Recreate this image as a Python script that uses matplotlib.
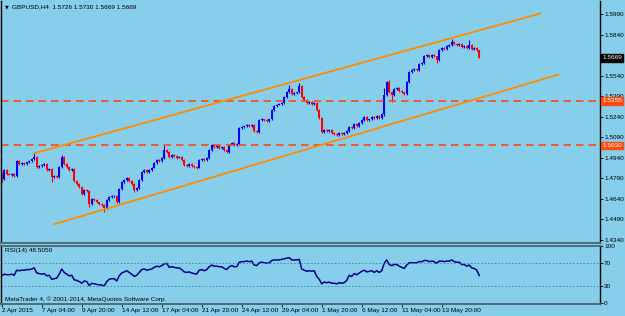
import matplotlib
matplotlib.use("Agg")
import matplotlib.pyplot as plt
import matplotlib.transforms as mtransforms
import numpy as np

# GBPUSD H4 bars, 2 Apr 2015 .. 14 May 2015
first_open = 1.4829
closes = [
    1.4785, 1.4851, 1.4822, 1.4815, 1.4822, 1.4807, 1.4917, 1.4895, 1.4902, 1.4895,
    1.4909, 1.4917, 1.4931, 1.4946, 1.4873, 1.4880, 1.4888, 1.4895, 1.4851, 1.4858,
    1.4800, 1.4807, 1.4800, 1.4873, 1.4946, 1.4895, 1.4873, 1.4851, 1.4858, 1.4771,
    1.4749, 1.4727, 1.4676, 1.4705, 1.4698, 1.4603, 1.4639, 1.4632, 1.4617, 1.4603,
    1.4596, 1.4574, 1.4632, 1.4654, 1.4661, 1.4661, 1.4617, 1.4712, 1.4763, 1.4778,
    1.4793, 1.4771, 1.4749, 1.4705, 1.4720, 1.4778, 1.4836, 1.4851, 1.4836, 1.4851,
    1.4866, 1.4902, 1.4924, 1.4917, 1.4939, 1.4997, 1.4982, 1.4946, 1.4961, 1.4953,
    1.4939, 1.4946, 1.4924, 1.4888, 1.4880, 1.4895, 1.4880, 1.4873, 1.4866, 1.4924,
    1.4931, 1.4924, 1.4939, 1.4997, 1.5034, 1.5019, 1.5026, 1.5012, 1.5019, 1.4997,
    1.4982, 1.5034, 1.5048, 1.5034, 1.5041, 1.5158, 1.5165, 1.5172, 1.5180, 1.5172,
    1.5180, 1.5136, 1.5128, 1.5216, 1.5223, 1.5216, 1.5209, 1.5223, 1.5289, 1.5318,
    1.5326, 1.5333, 1.5340, 1.5384, 1.5420, 1.5442, 1.5406, 1.5413, 1.5420, 1.5464,
    1.5384, 1.5362, 1.5340, 1.5347, 1.5333, 1.5340, 1.5289, 1.5231, 1.5128, 1.5143,
    1.5136, 1.5143, 1.5121, 1.5114, 1.5107, 1.5121, 1.5114, 1.5121, 1.5136, 1.5165,
    1.5158, 1.5187, 1.5172, 1.5194, 1.5216, 1.5238, 1.5216, 1.5223, 1.5238, 1.5231,
    1.5245, 1.5231, 1.5260, 1.5399, 1.5493, 1.5420, 1.5399, 1.5442, 1.5450, 1.5428,
    1.5420, 1.5406, 1.5493, 1.5566, 1.5581, 1.5588, 1.5581, 1.5625, 1.5632, 1.5683,
    1.5691, 1.5676, 1.5691, 1.5683, 1.5654, 1.5727, 1.5742, 1.5734, 1.5756, 1.5764,
    1.5785, 1.5771, 1.5764, 1.5771, 1.5749, 1.5756, 1.5742, 1.5764, 1.5734, 1.5742,
    1.5726, 1.5669,
]
# wick lengths beyond the body, in pips
wick_hi = [
    6, 6, 5, 4, 5, 4, 8, 5, 4, 5, 4, 5, 6, 27, 4, 5, 6, 5, 4, 5,
    4, 5, 4, 6, 15, 5, 4, 5, 4, 6, 5, 4, 5, 6, 4, 5, 6, 4, 5, 4,
    4, 5, 6, 5, 4, 5, 6, 7, 6, 5, 6, 5, 4, 5, 4, 6, 5, 6, 4, 5,
    5, 6, 5, 4, 6, 36, 6, 5, 6, 4, 5, 4, 5, 6, 4, 5, 4, 5, 4, 6,
    5, 4, 6, 7, 8, 5, 4, 5, 4, 5, 4, 6, 7, 5, 4, 10, 6, 5, 6, 5,
    6, 5, 4, 6, 5, 4, 5, 4, 8, 6, 5, 6, 5, 8, 6, 30, 5, 6, 4, 22,
    5, 6, 4, 5, 6, 4, 5, 4, 5, 6, 4, 5, 4, 5, 4, 5, 4, 5, 6, 7,
    5, 6, 4, 5, 6, 7, 5, 4, 6, 5, 4, 5, 6, 51, 8, 15, 6, 7, 5, 4,
    5, 4, 8, 7, 6, 5, 4, 6, 5, 7, 6, 5, 6, 5, 4, 8, 6, 5, 7, 6,
    22, 6, 5, 6, 4, 5, 6, 36, 5, 6, 5, 4,
]
wick_lo = [
    22, 5, 6, 4, 5, 6, 5, 4, 5, 4, 5, 4, 5, 4, 6, 5, 4, 5, 6, 5,
    37, 5, 6, 5, 4, 5, 6, 4, 5, 6, 5, 6, 8, 5, 6, 22, 5, 6, 5, 6,
    7, 30, 6, 5, 4, 5, 8, 5, 4, 5, 6, 5, 4, 12, 6, 5, 4, 5, 6, 4,
    5, 4, 5, 6, 4, 5, 6, 5, 4, 5, 6, 4, 5, 6, 5, 4, 6, 8, 5, 4,
    5, 6, 4, 5, 4, 6, 5, 4, 5, 6, 7, 5, 4, 5, 6, 5, 4, 5, 4, 5,
    4, 6, 5, 4, 5, 4, 5, 4, 5, 4, 5, 4, 6, 5, 4, 5, 6, 4, 5, 4,
    6, 5, 6, 4, 5, 4, 6, 5, 10, 6, 5, 4, 5, 6, 7, 5, 4, 5, 4, 5,
    6, 5, 4, 5, 4, 5, 6, 5, 4, 5, 6, 5, 4, 15, 6, 5, 52, 5, 4, 6,
    5, 6, 4, 5, 6, 4, 5, 6, 5, 4, 5, 6, 5, 4, 22, 5, 4, 5, 4, 5,
    4, 5, 4, 5, 6, 4, 5, 4, 5, 4, 6, 0,
]
rsi = [
    48, 51, 50, 50, 51, 49, 58, 57, 58, 58, 59, 59, 60, 62, 53, 52, 51, 52, 48, 49,
    42, 43, 44, 51, 60, 54, 51, 48, 49, 41, 40, 38, 35, 39, 38, 31, 35, 34, 33, 32,
    32, 30, 38, 42, 43, 43, 39, 48, 53, 55, 57, 54, 51, 47, 49, 54, 59, 60, 58, 59,
    60, 63, 65, 64, 66, 69, 70, 63, 64, 63, 62, 62, 59, 55, 54, 55, 53, 52, 51, 58,
    59, 57, 59, 64, 67, 65, 65, 64, 64, 61, 59, 64, 66, 64, 64, 72, 73, 73, 74, 73,
    74, 67, 66, 71, 72, 71, 70, 71, 75, 76, 76, 76, 77, 78, 79, 80, 76, 76, 76, 77,
    60, 58, 56, 57, 56, 57, 47, 42, 34, 37, 36, 37, 35, 35, 34, 36, 35, 36, 40, 49,
    47, 52, 50, 53, 56, 58, 55, 56, 57, 54, 57, 54, 57, 70, 76, 68, 66, 68, 68, 65,
    63, 61, 67, 71, 71, 71, 71, 73, 73, 75, 75, 73, 74, 73, 70, 74, 74, 73, 74, 74,
    76, 73, 72, 72, 68, 68, 65, 67, 62, 61, 58, 48.505,
]
tick_labels = [
    "2 Apr 2015", "7 Apr 04:00", "9 Apr 20:00", "14 Apr 12:00", "17 Apr 04:00",
    "21 Apr 20:00", "24 Apr 12:00", "29 Apr 04:00", "1 May 20:00", "6 May 12:00",
    "11 May 04:00", "13 May 20:00",
]
tick_bars = [0, 16, 32, 48, 64, 80, 96, 112, 128, 144, 160, 176]
price_ticks = [1.5990, 1.5840, 1.5540, 1.5390, 1.5240, 1.5090, 1.4940, 1.4790, 1.4640, 1.4490, 1.4340]
hlines = [1.5355, 1.5030]
# channel trend lines: (bar, price) end points
upper_line = ([13.0, 215.3], [1.4973, 1.5993])
lower_line = ([21.0, 222.5], [1.4455, 1.5547])
rsi_levels = [70, 30]

BG = "#87CEEB"
FS = 4.6
plt.rcParams["font.family"] = ["Liberation Sans", "DejaVu Sans"]

closes = np.array(closes)
opens = np.concatenate([[first_open], closes[:-1]])
highs = np.maximum(opens, closes) + np.array(wick_hi) * 1e-4
lows = np.minimum(opens, closes) - np.array(wick_lo) * 1e-4
bars = np.arange(len(closes))

fig = plt.figure(figsize=(6.25, 3.16), dpi=100, facecolor=BG)
ax = fig.add_axes([1 / 625, 73 / 316, 599 / 625, 242 / 316], facecolor=BG)
ax2 = fig.add_axes([1 / 625, 12 / 316, 599 / 625, 58 / 316], facecolor=BG, sharex=ax)

up = closes >= opens
colors = np.where(up, "#0000FF", "#FF0000")
body_h = np.maximum(np.abs(closes - opens), 0.0002)
ax.vlines(bars, lows, highs, colors=colors, lw=0.8)
ax.bar(bars, body_h, bottom=np.minimum(opens, closes), width=0.72, color=colors, linewidth=0)

for level in hlines:
    ax.axhline(level, color="#FF4A10", lw=1.2, ls=(0, (4.5, 3)))
ax.plot(*upper_line, color="#FF8C00", lw=1.3)
ax.plot(*lower_line, color="#FF8C00", lw=1.3)

ax.set_xlim(-0.28, 239.3)
ax.set_ylim(1.4318, 1.6085)
ax.yaxis.tick_right()
ax.set_yticks(price_ticks)
ax.set_yticklabels([f"{p:.4f}" for p in price_ticks])
ax.tick_params(axis="y", direction="out", length=2, width=0.6, pad=1, labelsize=FS, colors="black")
ax.tick_params(axis="x", bottom=False, labelbottom=False)

trans = mtransforms.blended_transform_factory(ax.transAxes, ax.transData)
ax.text(1.004, closes[-1], f"{closes[-1]:.4f}", transform=trans, fontsize=FS, color="white",
        va="center", ha="left", bbox=dict(fc="black", ec="black", pad=0.8))
for level in hlines:
    ax.text(1.004, level, f"{level:.4f}", transform=trans, fontsize=FS, color="white",
            va="center", ha="left", bbox=dict(fc="#FF4A10", ec="#FF4A10", pad=0.8))

ax.text(0.006, 0.985, "\u25bc", transform=ax.transAxes, fontsize=3.5, va="top", ha="left",
        family="DejaVu Sans")
ax.text(0.019, 0.988, "GBPUSD,H4  1.5726 1.5730 1.5669 1.5669", transform=ax.transAxes,
        fontsize=FS, va="top", ha="left")

ax2.plot(bars, rsi, color="#00008B", lw=1.1)
for level in rsi_levels:
    ax2.axhline(level, color="#3C8CA8", lw=0.7, ls=(0, (1.5, 2)))
ax2.set_ylim(-1.5, 100.5)
ax2.yaxis.tick_right()
ax2.set_yticks([100, 70, 30, 0])
ax2.set_yticklabels(["100", "70", "30", "0"])
ax2.tick_params(axis="y", direction="out", length=2, width=0.6, pad=1, labelsize=FS)
ax2.set_xticks(tick_bars)
ax2.set_xticklabels(tick_labels, ha="left")
ax2.tick_params(axis="x", direction="out", length=2, width=0.6, pad=1, labelsize=FS)
ax2.text(0.006, 0.96, f"RSI(14) {rsi[-1]:.4f}", transform=ax2.transAxes, fontsize=FS,
         va="top", ha="left")
ax2.text(0.006, 0.04, "MetaTrader 4, \u00a9 2001-2014, MetaQuotes Software Corp.",
         transform=ax2.transAxes, fontsize=FS, va="bottom", ha="left")

for a in (ax, ax2):
    a.spines["left"].set_color("black")
    a.spines["right"].set_color("black")
    a.spines["left"].set_linewidth(1.0)
    a.spines["right"].set_linewidth(1.0)
ax.spines["top"].set_visible(False)
ax.spines["bottom"].set_color("#4d6d7a")
ax.spines["bottom"].set_linewidth(1.4)
ax2.spines["top"].set_color("#4d6d7a")
ax2.spines["top"].set_linewidth(1.4)
ax2.spines["bottom"].set_color("#4d6d7a")
ax2.spines["bottom"].set_linewidth(1.4)

fig.savefig("out.png", dpi=100, facecolor=BG)
